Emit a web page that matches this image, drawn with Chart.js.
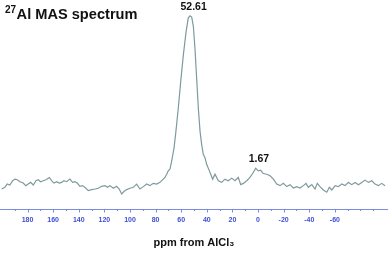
<!DOCTYPE html>
<html>
<head>
<meta charset="utf-8">
<script src="https://cdn.jsdelivr.net/npm/chart.js@4.4.1/dist/chart.umd.min.js"></script>
<style>
html,body{margin:0;padding:0;background:#fff;}
#wrap{position:relative;width:388px;height:253px;}
</style>
</head>
<body>
<div id="wrap"><canvas id="c" width="388" height="253"></canvas></div>
<script>
// chemical shift (ppm) and intensity (arbitrary units)
const ppm = [200.2,197.7,195.9,193.8,191.6,189.8,188.0,185.9,183.4,181.3,179.5,177.6,175.5,173.4,171.6,169.8,167.7,165.6,163.0,161.2,159.4,157.3,155.2,153.4,151.6,149.5,146.9,144.8,143.0,141.2,139.1,137.0,134.4,132.6,129.9,127.3,124.8,122.1,119.5,117.7,115.6,113.0,110.4,108.4,106.5,104.7,102.6,100.0,97.4,94.8,92.2,89.6,87.0,84.4,81.8,79.1,76.6,74.0,72.7,71.3,70.1,68.8,67.4,65.6,64.1,62.3,60.4,58.4,56.3,54.5,53.1,51.8,50.5,49.2,47.9,46.6,45.3,44.0,42.7,41.4,40.1,38.0,37.5,35.4,33.6,31.0,28.4,25.8,23.2,20.5,18.0,15.4,13.5,11.5,8.8,6.3,3.7,1.8,-0.2,-2.1,-4.1,-6.8,-9.4,-12.0,-14.6,-17.2,-19.8,-22.4,-25.0,-27.6,-30.2,-32.8,-35.4,-37.5,-39.3,-42.0,-44.5,-46.3,-48.4,-51.0,-53.7,-55.7,-57.6,-60.2,-62.7,-65.4,-68.0,-70.5,-73.2,-75.8,-78.4,-81.0,-83.6,-86.2,-88.8,-91.4,-94.0,-96.6,-99.2];
const intensity = [20.3,22,25.3,24.3,28.7,30.3,29.7,27.7,26.3,23.7,25.3,27,24.3,28.7,29.7,27.7,28.7,29.7,32,28.7,26.3,27.7,26.3,27,28.7,27.7,30.3,27,27.7,26.3,23,23.7,21,18.7,19.7,20.3,21,23,23.7,22,23.7,21,23,20.3,15.3,17.7,19.7,21,22,25.3,20.3,22.7,25.3,23.7,26,25.3,27,30.3,32,35.3,38.7,40.3,48.7,62,79,102,129,155.3,178.7,193.7,196,194.7,185.3,162,132,102,79,65.3,55.3,52,45.3,38.7,37,30.3,35.3,28.7,27,30.3,28.7,31.3,28.7,32,24.7,26,28.7,32,37,41.3,38.7,39.3,36,35.3,33.7,30.3,25.3,23.7,26,22.7,24.7,21.3,22.7,21.3,23.7,26,22,24.7,20.3,26,22.7,19.3,17,22,19.3,23.7,22.7,25.3,23.7,27,24.7,27,24.7,27,29.3,27,28.7,25.3,23.7,26,23.7];
// axis ticks (every 10 ppm) and labelled ticks
const tickValues = [190,180,170,160,150,140,130,120,110,100,90,80,70,60,50,40,30,20,10,0,-10,-20,-30,-40,-50,-60,-70,-80,-90];
const tickLabels = ['180','160','140','120','100','80','60','40','20','0','-20','-40','-60'];
// peak annotations
const peakPositions = [52.61, 1.67];
const peakLabels = ['52.61', '1.67'];
const peakHeights = [196, 41.3];

const points = ppm.map((p, i) => ({x: p, y: intensity[i]}));
const labelled = new Set(tickLabels.map(Number));

const decor = {
  id: 'decor',
  afterDraw(chart) {
    const ctx = chart.ctx;
    const xs = chart.scales.x, ys = chart.scales.y;
    ctx.save();
    // tick marks
    ctx.strokeStyle = '#7b8ce4';
    ctx.lineWidth = 1;
    const y0 = chart.chartArea.bottom;
    tickValues.forEach(v => {
      const px = Math.round(xs.getPixelForValue(v)) + 0.5;
      const len = labelled.has(v) ? 3.5 : 2;
      ctx.beginPath();
      ctx.moveTo(px, y0);
      ctx.lineTo(px, y0 + len);
      ctx.stroke();
    });
    // peak labels
    ctx.fillStyle = '#111';
    ctx.textAlign = 'center';
    ctx.textBaseline = 'alphabetic';
    ctx.font = 'bold 10.5px "Liberation Sans", Arial, sans-serif';
    peakPositions.forEach((p, i) => {
      const px = xs.getPixelForValue(p) + 3;
      const py = ys.getPixelForValue(peakHeights[i]) - 6;
      ctx.fillText(peakLabels[i], px, py);
    });
    // title with superscript
    ctx.textAlign = 'left';
    ctx.font = 'bold 10px "Liberation Sans", Arial, sans-serif';
    ctx.fillText('27', 5, 12.5);
    const w = ctx.measureText('27').width;
    ctx.font = 'bold 14.6px "Liberation Sans", Arial, sans-serif';
    ctx.fillText('Al MAS spectrum', 5 + w + 0.5, 18.5);
    ctx.restore();
  }
};

new Chart(document.getElementById('c'), {
  type: 'scatter',
  data: {
    datasets: [{
      data: points,
      showLine: true,
      borderColor: '#7f9a9b',
      borderWidth: 1.2,
      pointRadius: 0,
      tension: 0,
      fill: false
    }]
  },
  options: {
    responsive: false,
    animation: false,
    events: [],
    layout: {padding: 0},
    plugins: {legend: {display: false}, title: {display: false}, tooltip: {enabled: false}},
    scales: {
      x: {
        type: 'linear',
        min: -101.5,
        max: 201.5,
        reverse: true,
        afterBuildTicks: (scale) => { scale.ticks = tickValues.map(v => ({value: v})); },
        grid: {drawOnChartArea: false, drawTicks: true, tickLength: 4, tickColor: 'rgba(0,0,0,0)'},
        border: {display: true, color: '#7b8ce4', width: 1},
        ticks: {
          autoSkip: false,
          maxRotation: 0,
          padding: 3,
          color: '#3a4fd6',
          font: {family: '"Liberation Sans", Arial, sans-serif', size: 7, weight: 'bold'},
          callback: (v) => labelled.has(v) ? String(v) : ''
        },
        title: {
          display: true,
          text: 'ppm from AlCl₃',
          color: '#111',
          font: {family: '"Liberation Sans", Arial, sans-serif', size: 11, weight: 'bold'},
          padding: {top: 9, bottom: 3.4}
        }
      },
      y: {
        display: false,
        min: 0,
        max: 212
      }
    }
  },
  plugins: [decor]
});
</script>
</body>
</html>
